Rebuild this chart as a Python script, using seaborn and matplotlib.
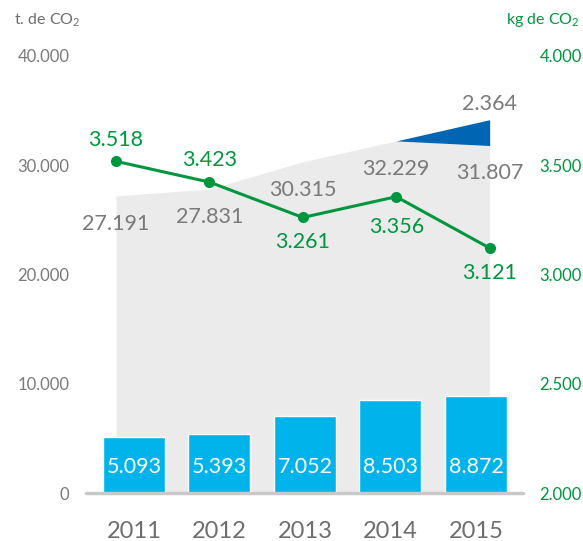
import matplotlib
matplotlib.use("Agg")
import matplotlib.pyplot as plt
import numpy as np
import pandas as pd
import seaborn as sns

### Data
years = ["2011", "2012", "2013", "2014", "2015"]
bar_vals = [5093, 5393, 7052, 8503, 8872]          # t. de CO2 (bars)
area_vals = [27191, 27831, 30315, 32229, 31807]    # t. de CO2 (grey area)
extra_2015 = 2364                                   # blue wedge on top
line_vals = [3.518, 3.423, 3.261, 3.356, 3.121]    # kg de CO2 (green line)

left_ticks = [0, 10000, 20000, 30000, 40000]
right_ticks = [2.0, 2.5, 3.0, 3.5, 4.0]

def dotfmt(v, dec=0):
    s = f"{v:,.{dec}f}"
    return s.replace(",", "#").replace(".", ",").replace("#", ".").replace(",", ".")

### Style
sns.set_style("white")
plt.rcParams['font.family'] = ['Lato', 'DejaVu Sans']
plt.rcParams['mathtext.default'] = 'regular'

CYAN = "#00b4eb"
GREY_AREA = "#ebebeb"
BLUE = "#0066b3"
GREEN = "#00963f"
GREY_TXT = "#7a7a7a"

fig = plt.figure(figsize=(5.83, 5.41), dpi=100)
ax = fig.add_axes([86/583, 48/541, 437/583, 437/541])

df = pd.DataFrame({"year": years, "t": bar_vals})

# grey area + line share x positions, slightly wider than the bar spacing
line_x = np.linspace(-0.21, 4.16, len(years))

ax.fill_between(line_x, 0, area_vals, color=GREY_AREA, lw=0, zorder=0)
ax.fill_between(line_x[3:], area_vals[3:],
                [area_vals[3], area_vals[4] + extra_2015],
                color=BLUE, lw=0, zorder=0)

sns.barplot(data=df, x="year", y="t", color=CYAN, width=0.725,
            saturation=1, ax=ax, zorder=2)

ax.set_xlim(-0.561, 4.55)
ax.set_ylim(0, 40000)
ax.axhline(0, color="#c8c8c8", lw=2.5, zorder=3, clip_on=False)

for i, v in enumerate(bar_vals):
    ax.text(i, 2400, dotfmt(v), color="white", fontsize=15.5,
            ha="center", va="center", zorder=4)

for i, v in enumerate(area_vals):
    ax.annotate(dotfmt(v), (line_x[i], v), xytext=(0, -20),
                textcoords="offset points", ha="center", va="center",
                color=GREY_TXT, fontsize=15.5, zorder=1)
ax.annotate(dotfmt(extra_2015), (line_x[4], area_vals[4] + extra_2015),
            xytext=(0, 11), textcoords="offset points", ha="center",
            va="center", color=GREY_TXT, fontsize=15.5)

ax.set_yticks(left_ticks)
ax.set_yticklabels([dotfmt(t) for t in left_ticks])
ax.tick_params(axis="y", length=0, pad=12, labelsize=12, labelcolor=GREY_TXT)
ax.tick_params(axis="x", length=0, pad=20, labelsize=17, labelcolor="#6e6e6e")
ax.set_xlabel("")
ax.set_ylabel("")
for s in ax.spines.values():
    s.set_visible(False)

### Right axis: kg de CO2
ax2 = ax.twinx()
sns.lineplot(x=line_x, y=line_vals, ax=ax2, color=GREEN, lw=2.2,
             marker="o", markersize=8, markeredgewidth=0)
ax2.set_ylim(2.0, 4.0)
ax2.set_yticks(right_ticks)
ax2.set_yticklabels([dotfmt(t, 3) for t in right_ticks])
ax2.tick_params(axis="y", length=0, pad=12, labelsize=12, labelcolor=GREEN)
for s in ax2.spines.values():
    s.set_visible(False)

offs = [15, 16, -18, -22, -18]
for x, v, o in zip(line_x, line_vals, offs):
    ax2.annotate(dotfmt(v, 3), (x, v), xytext=(0, o), textcoords="offset points",
                 ha="center", va="center", color=GREEN, fontsize=15.5)

fig.text(14/583, 1 - 20/541, "t. de CO$_2$", color="#6e6e6e", fontsize=11.5,
         ha="left", va="center")
fig.text(579/583, 1 - 20/541, "kg de CO$_2$", color=GREEN, fontsize=11.5,
         ha="right", va="center")

plt.savefig("out.png", dpi=100)
